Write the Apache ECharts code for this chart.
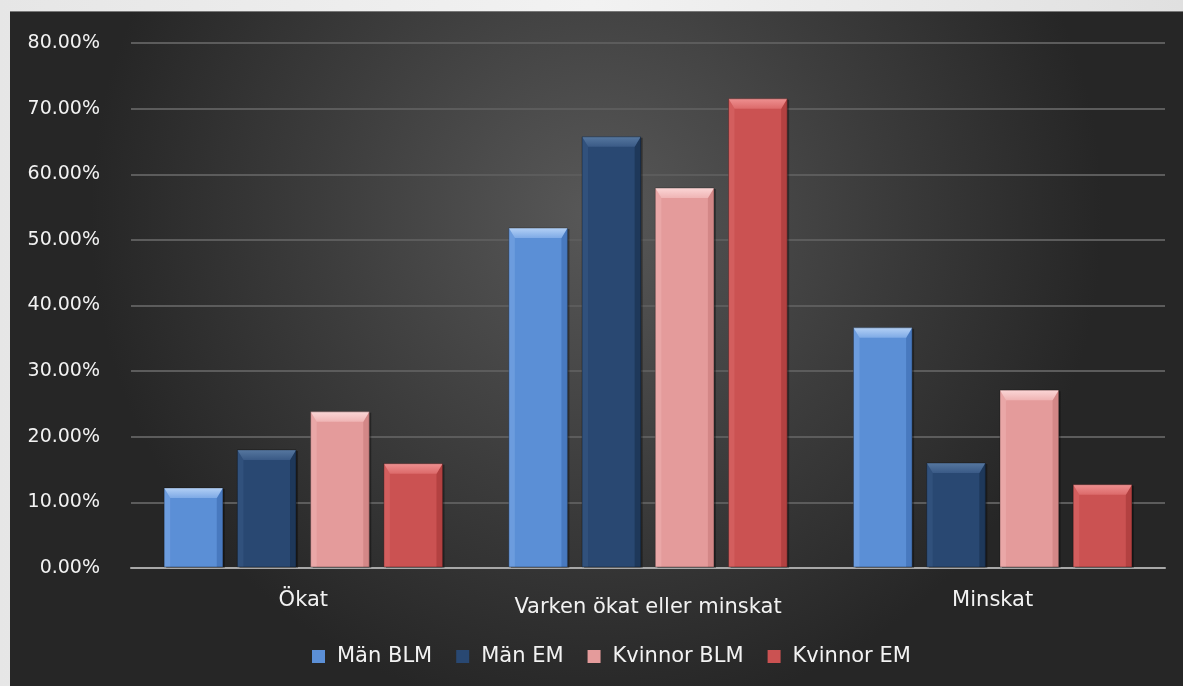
<!DOCTYPE html>
<html><head><meta charset="utf-8">
<script src="https://cdn.jsdelivr.net/npm/echarts@6/dist/echarts.min.js"></script>
<style>
html,body{margin:0;padding:0;width:1183px;height:686px;overflow:hidden;background:linear-gradient(90deg,#e6e6e6,#f2f2f2 50%,#e0e0e0);}
#c{position:absolute;left:10px;top:11px;width:1173px;height:675px;border-top:1px solid #777;}
</style></head><body>
<div id="c"></div>
<script>
const categories = ['Ökat', 'Varken ökat eller minskat', 'Minskat'];
const seriesNames = ['Män BLM', 'Män EM', 'Kvinnor BLM', 'Kvinnor EM'];
const manBLM = [12.2, 51.8, 36.6];
const manEM = [18.0, 65.7, 16.0];
const kvinnorBLM = [23.8, 57.9, 27.1];
const kvinnorEM = [15.9, 71.5, 12.7];
const yTicks = [0, 10, 20, 30, 40, 50, 60, 70, 80];

// [body, top bevel, side shade, bevel lower]
const colors = [
  ['#5b8fd6', '#b3d0f5', '#4677bd', '#7eaae6'],
  ['#294872', '#56779f', '#1d3658', '#3a5a86'],
  ['#e49b9b', '#fbd6d6', '#d08585', '#efb4b4'],
  ['#cb5252', '#ee9090', '#b03f3f', '#dc6a6a']
];
const seriesData = [manBLM, manEM, kvinnorBLM, kvinnorEM];

const font = '"DejaVu Sans", sans-serif';
const nS = seriesNames.length;
const barFrac = 0.17, gapFrac = 0.25;

function renderBar(si){
  return function(params, api){
    const ci = api.value(0), v = api.value(1);
    const base = api.coord([ci, 0]);
    const top = api.coord([ci, v]);
    const band = api.size([1, 0])[0];
    const bw = band * barFrac;
    const gw = bw * gapFrac;
    const total = nS * bw + (nS - 1) * gw;
    const x0 = base[0] - total / 2 + si * (bw + gw);
    const x1 = x0 + bw, y0 = top[1], y1 = base[1] - 1;
    const c = colors[si];
    const b = Math.min(10, (y1 - y0) / 2), s = 6;
    return {
      type:'group',
      children:[
        {type:'rect', shape:{x:x0+2,y:y0+1,width:bw,height:y1-y0}, style:{fill:'rgba(0,0,0,0.35)'}},
        {type:'rect', shape:{x:x0,y:y0,width:bw,height:y1-y0}, style:{fill:c[0]}},
        {type:'polygon', shape:{points:[[x0,y0],[x0+s,y0+b],[x0+s,y1],[x0,y1]]}, style:{fill:c[3], opacity:0.5}},
        {type:'polygon', shape:{points:[[x1,y0],[x1-s,y0+b],[x1-s,y1],[x1,y1]]}, style:{fill:c[2], opacity:0.9}},
        {type:'polygon', shape:{points:[[x0,y0],[x1,y0],[x1-s,y0+b],[x0+s,y0+b]]},
          style:{fill:new echarts.graphic.LinearGradient(0,0,0,1,[{offset:0,color:c[1]},{offset:1,color:c[3]}])}},
        {type:'rect', shape:{x:x0,y:y0,width:bw,height:y1-y0}, style:{fill:'none',stroke:'rgba(0,0,0,0.3)',lineWidth:1}}
      ]
    };
  };
}

const chart = echarts.init(document.getElementById('c'));
chart.setOption({
  backgroundColor: new echarts.graphic.RadialGradient(0.5,0.3,0.75,[
    {offset:0,color:'#585858'},{offset:0.55,color:'#3c3c3c'},{offset:1,color:'#262626'}]),
  textStyle:{fontFamily:font},
  grid:{left:121,right:18,top:31,bottom:119},
  legend:{
    data: seriesNames.map((n,i)=>({name:n,itemStyle:{color:colors[i][0]}})),
    bottom:15, left:297, itemWidth:13, itemHeight:13, itemGap:24, icon:'rect',
    textStyle:{color:'#f2f2f2',fontSize:21,fontFamily:font,padding:[0,0,0,7]}
  },
  xAxis:{
    type:'category', data:categories,
    axisLine:{lineStyle:{color:'#a8a8a8',width:2}},
    axisTick:{show:false},
    axisLabel:{interval:0,color:'#f2f2f2',fontSize:21,fontFamily:font,margin:22,
      formatter:(v,i)=> i===1 ? '{b|'+v+'}' : v,
      rich:{b:{padding:[7,0,0,0],fontSize:21,color:'#f2f2f2',fontFamily:font}}}
  },
  yAxis:{
    type:'value', min:0, max:80, interval:10,
    axisLabel:{color:'#f2f2f2',fontSize:19,fontFamily:font,margin:31,
      formatter:v=>v.toFixed(2)+'%'},
    splitLine:{lineStyle:{color:'#5c5c5c',width:2}},
    axisLine:{show:false}, axisTick:{show:false}
  },
  series: seriesNames.map((n,i)=>({
    name:n, type:'custom', renderItem:renderBar(i),
    itemStyle:{color:colors[i][0]},
    encode:{x:0,y:1},
    data: seriesData[i].map((v,ci)=>[ci, v])
  }))
});
</script>
</body></html>
